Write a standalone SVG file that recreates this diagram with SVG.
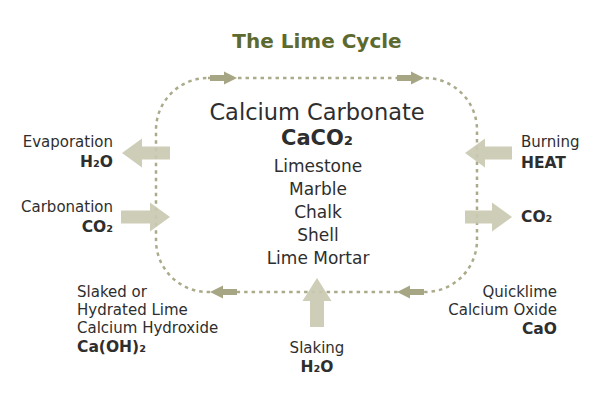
<svg xmlns="http://www.w3.org/2000/svg" width="600" height="400" viewBox="0 0 600 400">
<style>
text{font-family:"DejaVu Sans","Liberation Sans",sans-serif;fill:#2e2e2e}
.lbl{font-size:15px}
.b{font-weight:bold;font-size:15.5px}
.list{font-size:17px}
.title{font-size:20px;font-weight:bold;fill:#5d6a2f}
.cycle{fill:none;stroke:#abab8b;stroke-width:2.5;stroke-dasharray:3.5 4}
.small{fill:#a6a684}
.big{fill:#c9c9b2;fill-opacity:0.92}
</style>
<rect width="600" height="400" fill="#ffffff"/>
<g id="connectors">
<rect class="cycle" x="156" y="78" width="321" height="214" rx="52" ry="52"/>
<path class="small" d="M210,75 H224 V71.5 L237,78 L224,84.5 V81 H210 Z"/>
<path class="small" d="M397,75 H411 V71.5 L424,78 L411,84.5 V81 H397 Z"/>
<path class="small" d="M237,289 H223 V285.5 L210,292 L223,298.5 V295 H237 Z"/>
<path class="small" d="M424,289 H410 V285.5 L397,292 L410,298.5 V295 H424 Z"/>
<path class="big" d="M170,146.5 H142 V138.5 L122,153 L142,167.5 V159.5 H170 Z"/>
<path class="big" d="M121,210.5 H150 V202.5 L170,217 L150,231.5 V223.5 H121 Z"/>
<path class="big" d="M512,146.5 H485 V138.5 L465,153 L485,167.5 V159.5 H512 Z"/>
<path class="big" d="M465,210.5 H492 V202.5 L512,217 L492,231.5 V223.5 H465 Z"/>
<path class="big" d="M310,327 V301 H302.5 L317,278 L331.5,301 H324 V327 Z"/>
</g>
<g id="title"><text class="title" x="317" y="48" text-anchor="middle">The Lime Cycle</text></g>
<g id="calcium-carbonate" text-anchor="middle">
<text x="317" y="120" font-size="22.5">Calcium Carbonate</text>
<text x="317" y="145" font-size="21" font-weight="bold">CaCO₂</text>
<text class="list" x="318" y="172">Limestone</text>
<text class="list" x="318" y="195">Marble</text>
<text class="list" x="318" y="218">Chalk</text>
<text class="list" x="318" y="241">Shell</text>
<text class="list" x="318" y="264">Lime Mortar</text>
</g>
<g id="evaporation" text-anchor="end">
<text class="lbl" x="113" y="147">Evaporation</text>
<text class="b" x="113" y="167">H₂O</text>
</g>
<g id="carbonation" text-anchor="end">
<text class="lbl" x="113" y="212">Carbonation</text>
<text class="b" x="113" y="232">CO₂</text>
</g>
<g id="burning">
<text class="lbl" x="521" y="147">Burning</text>
<text class="b" x="521" y="168">HEAT</text>
</g>
<g id="co2-out"><text class="b" x="521" y="222">CO₂</text></g>
<g id="slaked-lime">
<text class="lbl" x="77" y="297">Slaked or</text>
<text class="lbl" x="77" y="315">Hydrated Lime</text>
<text class="lbl" x="77" y="333">Calcium Hydroxide</text>
<text class="b" x="77" y="352">Ca(OH)₂</text>
</g>
<g id="quicklime" text-anchor="end">
<text class="lbl" x="557" y="297">Quicklime</text>
<text class="lbl" x="557" y="315">Calcium Oxide</text>
<text class="b" x="557" y="334">CaO</text>
</g>
<g id="slaking" text-anchor="middle">
<text class="lbl" x="317" y="353">Slaking</text>
<text class="b" x="317" y="372">H₂O</text>
</g>
</svg>
